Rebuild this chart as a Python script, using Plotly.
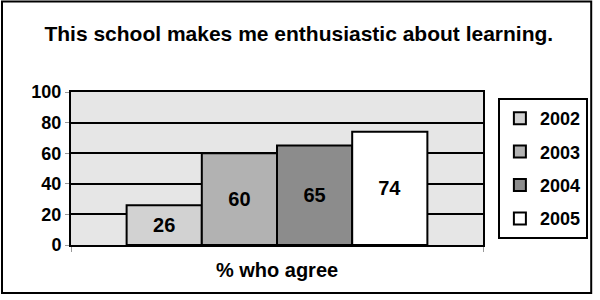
import plotly.graph_objects as go

title = "This school makes me enthusiastic about learning."
category = ["% who agree"]
years = ["2002", "2003", "2004", "2005"]
values = [26, 60, 65, 74]
colors = ["#d2d2d2", "#b2b2b2", "#8c8c8c", "#ffffff"]

FONT = "Liberation Sans, Arial, sans-serif"

fig = go.Figure()
for yr, v, c in zip(years, values, colors):
    fig.add_trace(go.Bar(
        x=category, y=[v], name=yr, legendgroup=yr,
        marker=dict(color=c, line=dict(color="black", width=2)),
        text=[str(v)], textposition="inside", insidetextanchor="middle",
        textfont=dict(family=FONT, size=20, color="black", weight="bold"),
    ))

L, R, T, B = 71, 114, 92, 55
W, H = 600, 300
pw, ph = W - L - R, H - T - B

def px_x(p):
    return (p - L) / pw

def px_y(p):
    return (H - B - p) / ph

fig.update_layout(
    width=W, height=H,
    margin=dict(l=L, r=R, t=T, b=B),
    paper_bgcolor="white",
    plot_bgcolor="#e6e6e6",
    barmode="group", bargap=0.27, bargroupgap=0,
    font=dict(family=FONT, color="black"),
    title=dict(text=title, x=0.498, xanchor="center", xref="container",
               y=(H - 33.5) / H, yanchor="middle", yref="container",
               font=dict(family=FONT, size=21, color="black", weight="bold")),
    showlegend=True,
    legend=dict(x=px_x(501), xanchor="left", y=px_y(98), yanchor="top",
                bgcolor="white", bordercolor="black", borderwidth=2,
                font=dict(family=FONT, size=18, color="black", weight="bold"),
                tracegroupgap=7, traceorder="grouped", itemwidth=30),
    xaxis=dict(showgrid=False, showline=True, linecolor="black", linewidth=2,
               mirror=True, ticks="outside", tickson="boundaries", ticklen=5,
               tickcolor="#999", ticklabelstandoff=6,
               tickfont=dict(family=FONT, size=20, color="black", weight="bold")),
    yaxis=dict(range=[0, 100], dtick=20, showgrid=True, gridcolor="black",
               gridwidth=2, showline=True, linecolor="black", linewidth=2,
               mirror=True, ticks="outside", ticklen=4, tickcolor="#999",
               zeroline=False,
               tickfont=dict(family=FONT, size=18, color="black", weight="bold")),
    shapes=[dict(type="rect", xref="paper", yref="paper",
                 x0=px_x(1.5), x1=px_x(595), y0=px_y(293), y1=px_y(1.5),
                 line=dict(color="black", width=2), fillcolor="rgba(0,0,0,0)",
                 layer="above")],
)

fig.write_html("out.html")
